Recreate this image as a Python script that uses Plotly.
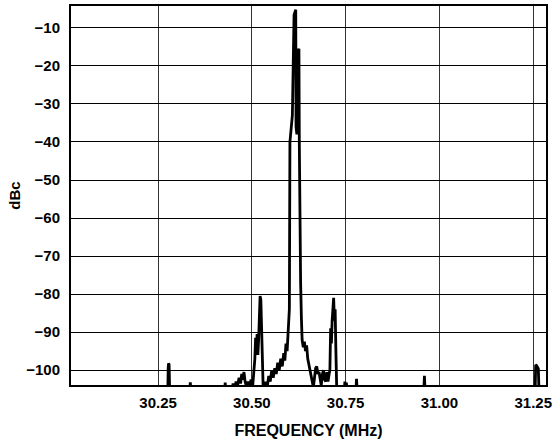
import plotly.graph_objects as go

# Spectrum trace (frequency in MHz, level in dBc); -106 = below displayed floor
freq_mhz = [
    30.018, 30.276, 30.277, 30.278, 30.2795, 30.281,
    30.334, 30.336, 30.338,
    30.427, 30.429, 30.431,
    30.446, 30.450, 30.454, 30.458, 30.462, 30.466, 30.470, 30.473, 30.476,
    30.479, 30.482, 30.486, 30.490, 30.494, 30.498, 30.502, 30.505,
    30.508, 30.510, 30.512, 30.514, 30.516, 30.518, 30.520, 30.522, 30.524,
    30.526, 30.528, 30.530,
    30.533, 30.537, 30.541, 30.545, 30.549, 30.553, 30.557, 30.561, 30.565,
    30.569, 30.573, 30.577, 30.581, 30.585, 30.588, 30.591, 30.594, 30.597,
    30.600, 30.6015, 30.6035, 30.606, 30.608, 30.6125, 30.614, 30.6155, 30.617,
    30.6178, 30.620, 30.6228, 30.6255, 30.6265, 30.628, 30.630, 30.632, 30.634,
    30.637,
    30.640, 30.643, 30.646, 30.649, 30.652, 30.655, 30.658, 30.661, 30.664,
    30.667, 30.670, 30.673, 30.676, 30.679, 30.682, 30.685, 30.688, 30.691,
    30.694, 30.697, 30.700, 30.703, 30.706,
    30.708, 30.710, 30.712, 30.714, 30.716, 30.718, 30.720, 30.722, 30.724,
    30.726, 30.729,
    30.746, 30.748, 30.750, 30.752, 30.754, 30.777, 30.779, 30.781,
    30.958, 30.960, 30.962,
    31.255, 31.2565, 31.259, 31.2635, 31.2655, 31.284,
]
level_dbc = [
    -106, -106, -99.5, -98.2, -98.6, -106,
    -106, -103.2, -106,
    -106, -103.3, -106,
    -106, -103.5, -105, -103, -104, -102, -103.5, -101, -102.5,
    -100.5, -103, -104.5, -103, -104, -102.5, -104.5, -101,
    -97, -91.5, -95, -90.5, -96, -92, -86, -80.5, -81.5,
    -91, -95, -104,
    -106, -103, -104.5, -101.5, -103, -100, -102, -99.5, -101,
    -98, -100, -97, -99, -95.5, -97.5, -93, -95, -90,
    -84, -40, -37, -34, -33, -6.6, -6.0, -5.3, -5.2,
    -36, -38, -16, -15.5, -40, -62, -77, -86, -92,
    -94,
    -92.5, -95, -93.5, -97, -98.5, -100, -101.5, -103, -104.5,
    -102, -99.5, -99, -101, -100.5, -103, -104, -101, -100,
    -102.5, -103, -100.5, -103, -101,
    -100, -89, -93, -87, -81.5, -81, -87, -84, -95,
    -104, -106,
    -106, -103, -104.5, -103.3, -106, -106, -102.3, -106,
    -106, -101.5, -106,
    -106, -98.6, -98.8, -99.6, -106, -106,
]

x_tick_vals = [30.25, 30.50, 30.75, 31.00, 31.25]
x_tick_text = ["30.25", "30.50", "30.75", "31.00", "31.25"]
y_tick_vals = [-10, -20, -30, -40, -50, -60, -70, -80, -90, -100]
y_tick_text = ["\u221210", "\u221220", "\u221230", "\u221240", "\u221250",
               "\u221260", "\u221270", "\u221280", "\u221290", "\u2212100"]

font_family = "Liberation Sans, Arial, sans-serif"

fig = go.Figure()
fig.add_trace(go.Scatter(
    x=freq_mhz, y=level_dbc, mode="lines",
    line=dict(color="black", width=2.8),
    showlegend=False, hoverinfo="skip",
))

fig.update_layout(
    width=556, height=442,
    margin=dict(l=71, r=4, t=4, b=57),
    paper_bgcolor="white", plot_bgcolor="white",
    font=dict(family=font_family, size=16, color="black"),
)
fig.update_xaxes(
    range=[30.018, 31.284],
    tickvals=x_tick_vals, ticktext=["<b>%s</b>" % t for t in x_tick_text],
    tickfont=dict(family=font_family, size=15, color="black"),
    ticklabeloverflow="allow",
    showgrid=True, gridcolor="#333333", gridwidth=1,
    showline=True, linecolor="black", linewidth=2, mirror=True,
    zeroline=False, ticks="", ticklabelstandoff=3,
    title=dict(text="<b>FREQUENCY (MHz)</b>", standoff=15,
               font=dict(family=font_family, size=16, color="black")),
)
fig.update_yaxes(
    range=[-103.9, -4.24],
    tickvals=y_tick_vals, ticktext=["<b>%s</b>" % t for t in y_tick_text],
    tickfont=dict(family=font_family, size=15, color="black"),
    showgrid=True, gridcolor="#000000", gridwidth=1,
    showline=True, linecolor="black", linewidth=2, mirror=True,
    zeroline=False, ticks="", ticklabelstandoff=6,
    title=dict(text="<b>dBc</b>", standoff=2,
               font=dict(family=font_family, size=15, color="black")),
)

fig.write_html("out.html")
